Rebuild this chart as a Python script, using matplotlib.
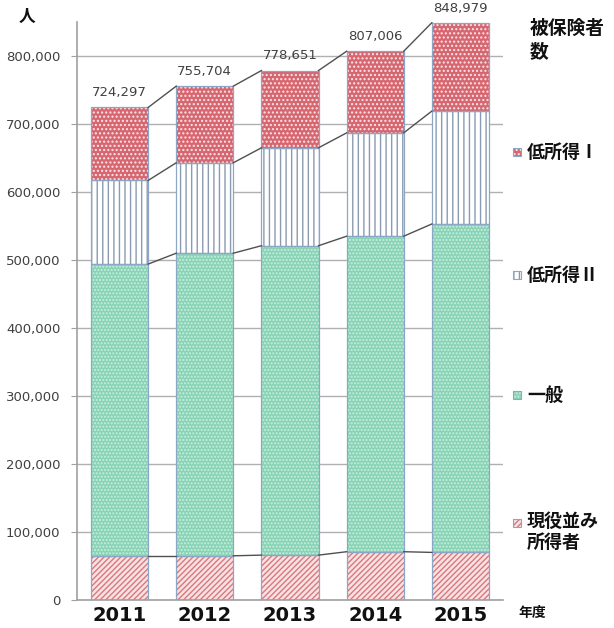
import matplotlib
matplotlib.use("Agg")
import matplotlib.pyplot as plt
import numpy as np
from matplotlib.patches import Rectangle

plt.rcParams['font.family'] = ['Noto Sans CJK JP', 'DejaVu Sans']

years = ['2011', '2012', '2013', '2014', '2015']
genekinami = [65000, 65000, 66000, 71000, 70000]      # 現役並み所得者
ippan = [429000, 445000, 455000, 464000, 483000]       # 一般
tei2 = [123000, 133000, 144000, 152000, 166000]        # 低所得Ⅱ
totals = [724297, 755704, 778651, 807006, 848979]      # 被保険者数 合計
tei1 = [t - a - b - c for t, a, b, c in zip(totals, genekinami, ippan, tei2)]  # 低所得Ⅰ

series = [
    ('現役並み\n所得者', genekinami, '#f8e2e2', '#d9787f', '//////'),
    ('一般', ippan, '#88d3b5', '#c9efdf', '.....'),
    ('低所得Ⅱ', tei2, '#ffffff', '#8a9bb0', '|||'),
    ('低所得Ⅰ', tei1, '#d66670', '#fbe6e8', '....'),
]

fig = plt.figure(figsize=(6.14, 6.28), dpi=100)
ax = fig.add_axes([77 / 614, 1 - 600 / 628, (503 - 77) / 614, (600 - 22) / 628])

x = np.arange(len(years))
w = 0.67
plt.rcParams['hatch.linewidth'] = 1.0

bottom = np.zeros(len(years))
levels = []
for name, vals, face, hcol, hatch in series:
    vals = np.array(vals, dtype=float)
    ax.bar(x, vals, w, bottom=bottom, color=face, edgecolor=hcol, hatch=hatch,
           linewidth=0, zorder=2)
    ax.bar(x, vals, w, bottom=bottom, fill=False, edgecolor='#8ea6c6',
           linewidth=0.9, zorder=3)
    bottom = bottom + vals
    levels.append(bottom.copy())

# series lines between adjacent bars
for lv in levels:
    for i in range(len(years) - 1):
        ax.plot([x[i] + w / 2, x[i + 1] - w / 2], [lv[i], lv[i + 1]],
                color='#505050', lw=1.0, zorder=4)

for i, t in enumerate(totals):
    ax.text(x[i], t + 12000, f'{t:,}', ha='center', va='bottom',
            fontsize=9.5, color='#404040', family='DejaVu Sans', clip_on=False)

ax.set_xlim(-0.5, len(years) - 0.5)
ax.set_ylim(0, 850000)
ax.set_yticks(np.arange(0, 800001, 100000))
ax.set_yticklabels([f'{v:,}' for v in range(0, 800001, 100000)],
                   fontsize=9.5, color='#404040', family='DejaVu Sans')
ax.set_xticks(x)
ax.set_xticklabels(years, fontsize=14, fontweight='bold', color='#111111',
                   family='DejaVu Sans')
ax.tick_params(axis='y', length=4, color='#a0a0a0', pad=8)
ax.tick_params(axis='x', length=0, pad=4)
ax.grid(axis='y', color='#b0b0b0', lw=1.0, zorder=0)
ax.set_axisbelow(True)
for s in ['top', 'right']:
    ax.spines[s].set_visible(False)
for s in ['left', 'bottom']:
    ax.spines[s].set_color('#a0a0a0')
    ax.spines[s].set_linewidth(1.2)

fig.text(27 / 614, 1 - 17 / 628, '人', fontsize=12, fontweight='bold',
         ha='center', va='center', color='#111111')
fig.text(518 / 614, 1 - 613 / 628, '年度', fontsize=10, fontweight='bold',
         ha='left', va='center', color='#111111')

# legend
fig.text(530 / 614, 1 - 40 / 628, '被保険者\n数', fontsize=13.5, fontweight='bold',
         ha='left', va='center', color='#111111', linespacing=1.3)
legend_pos = [(523, series[0]), (395, series[1]), (275, series[2]), (152, series[3])]
for ypx, (name, vals, face, hcol, hatch) in legend_pos:
    r = Rectangle((513 / 614, 1 - (ypx + 4) / 628), 8 / 614, 8 / 628,
                  transform=fig.transFigure, facecolor=face, edgecolor=hcol,
                  hatch=hatch, linewidth=0)
    fig.add_artist(r)
    r2 = Rectangle((513 / 614, 1 - (ypx + 4) / 628), 8 / 614, 8 / 628,
                   transform=fig.transFigure, fill=False, edgecolor='#8ea6c6',
                   linewidth=0.8)
    fig.add_artist(r2)
    if '\n' in name:
        fig.text(527 / 614, 1 - (ypx - 11) / 628, name, fontsize=13,
                 fontweight='bold', ha='left', va='top', color='#111111',
                 linespacing=1.15)
    else:
        fig.text(527 / 614, 1 - ypx / 628, name, fontsize=13, fontweight='bold',
                 ha='left', va='center', color='#111111')

fig.savefig('out.png', dpi=100)
